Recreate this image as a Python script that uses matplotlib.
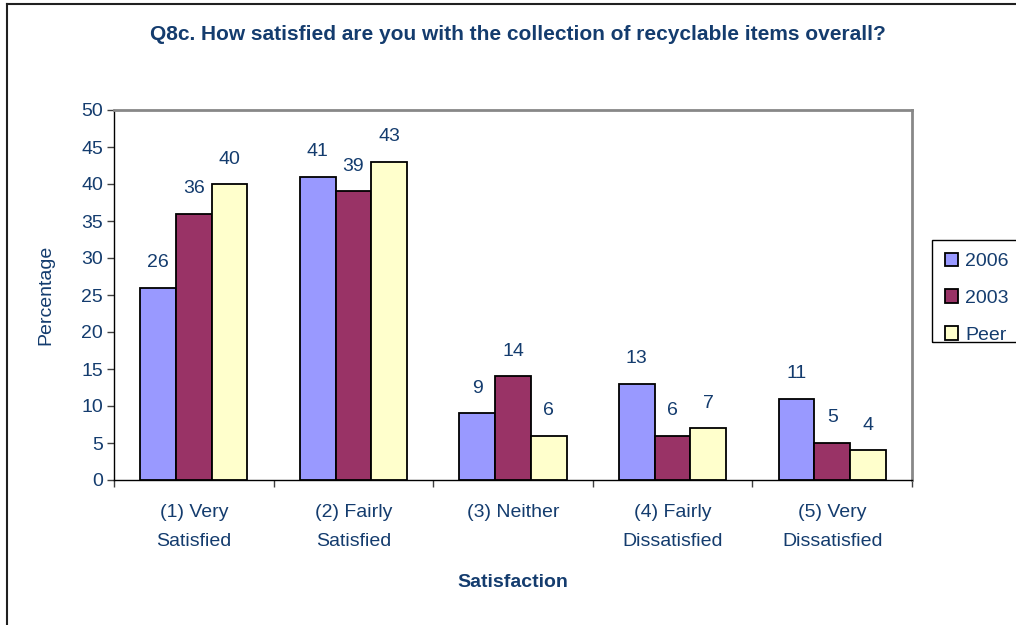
import matplotlib.pyplot as plt
import numpy as np
from matplotlib.patches import Rectangle
from matplotlib.lines import Line2D

categories = ['(1) Very\nSatisfied', '(2) Fairly\nSatisfied', '(3) Neither',
              '(4) Fairly\nDissatisfied', '(5) Very\nDissatisfied']
series_names = ['2006', '2003', 'Peer']
vals_2006 = [26, 41, 9, 13, 11]
vals_2003 = [36, 39, 14, 6, 5]
vals_peer = [40, 43, 6, 7, 4]

colors = ['#9999FF', '#993366', '#FFFFCC']
navy = '#143C6E'
fs = 14

plt.rcParams['font.family'] = ['Liberation Sans', 'DejaVu Sans']

fig = plt.figure(figsize=(10.16, 6.25), dpi=100)
ax = fig.add_axes([114 / 1016, 1 - 480 / 625, (912 - 114) / 1016, (480 - 110) / 625])

x = np.arange(len(categories)) + 0.5
w = 0.224
for i, (vals, name) in enumerate(zip([vals_2006, vals_2003, vals_peer], series_names)):
    bars = ax.bar(x + (i - 1) * w, vals, width=w, color=colors[i],
                  edgecolor='black', linewidth=1.3, label=name, zorder=3)
    for b, v in zip(bars, vals):
        ax.annotate(str(v), (b.get_x() + b.get_width() / 2, v),
                    xytext=(0, 18), textcoords='offset points',
                    ha='center', va='center', fontsize=fs, color=navy)

ax.set_xlim(0, 5)
ax.set_ylim(0, 50)
ax.set_yticks(range(0, 51, 5))
ax.set_xticks(x)
ax.set_xticklabels(categories, fontsize=fs, color=navy, linespacing=1.95)
ax.set_xticks(np.arange(0, 6), minor=True)
ax.tick_params(axis='x', which='major', length=0, pad=17)
ax.tick_params(axis='x', which='minor', length=5, width=1, color='#404040')
ax.tick_params(axis='y', length=5, width=1, pad=3, labelsize=fs,
               labelcolor=navy, color='#404040')

for s in ['top', 'right']:
    ax.spines[s].set_color('#888888')
    ax.spines[s].set_linewidth(2)
for s in ['left', 'bottom']:
    ax.spines[s].set_color('black')
    ax.spines[s].set_linewidth(1)

ax.set_ylabel('Percentage', fontsize=fs, color=navy, labelpad=19)
ax.set_xlabel('Satisfaction', fontsize=fs, fontweight='bold', color=navy, labelpad=17)

fig.text(518 / 1016, 1 - 35 / 625,
         'Q8c. How satisfied are you with the collection of recyclable items overall?',
         ha='center', va='center', fontsize=15, fontweight='bold', color=navy)

# legend
leg = fig.legend(loc='upper left', bbox_to_anchor=(937 / 1016, 1 - 245 / 625),
                 frameon=False, fontsize=fs, handlelength=0.7, handleheight=0.7,
                 handletextpad=0.35, labelspacing=0.98, borderaxespad=0)
for t in leg.get_texts():
    t.set_color(navy)
fig.add_artist(Rectangle((932 / 1016, 1 - 342 / 625), 100 / 1016, 102 / 625,
                         transform=fig.transFigure, fill=False,
                         edgecolor='black', linewidth=1, clip_on=False))

# outer chart frame
fig.add_artist(Line2D([6.5 / 1016, 6.5 / 1016], [0, 1 - 4 / 625],
                      transform=fig.transFigure, color='#202020', linewidth=1.5))
fig.add_artist(Line2D([6.5 / 1016, 1], [1 - 4 / 625, 1 - 4 / 625],
                      transform=fig.transFigure, color='#202020', linewidth=1.5))

fig.savefig('out.png', dpi=100)
